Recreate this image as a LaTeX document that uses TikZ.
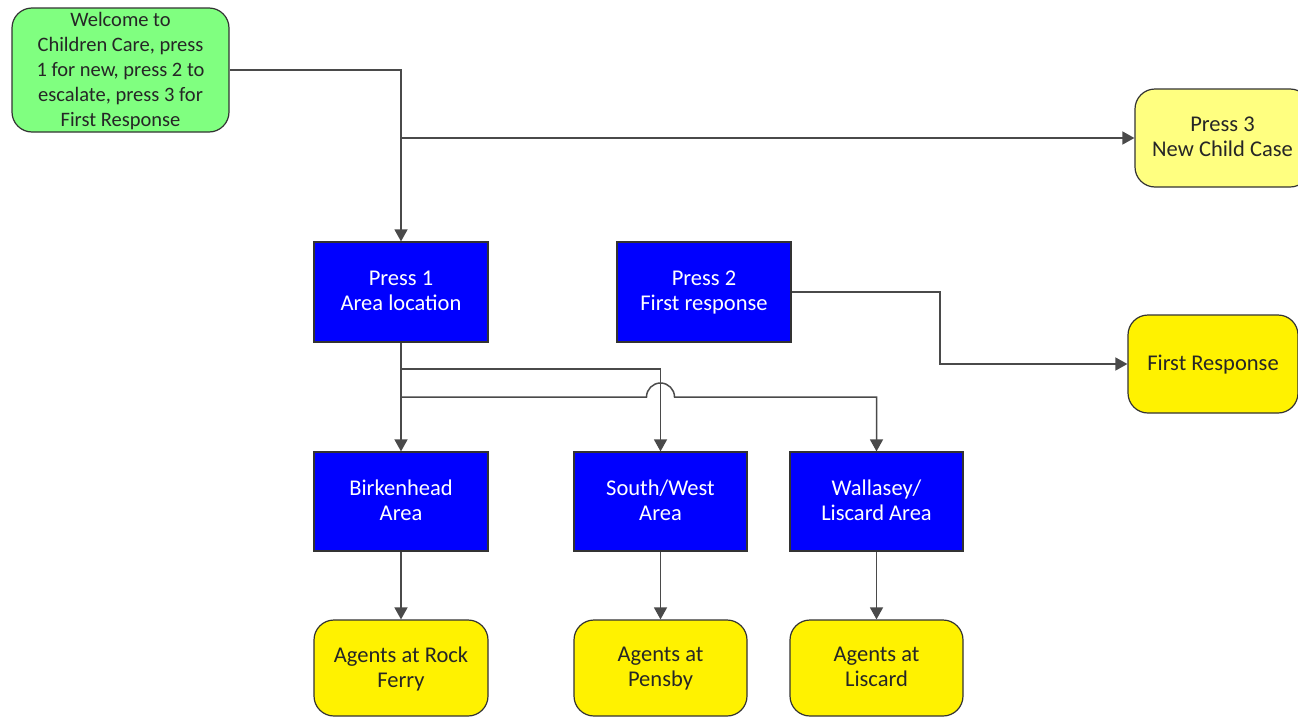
\documentclass[tikz,border=0pt]{standalone}
\usepackage{fontspec}
\setmainfont{Carlito}
\usetikzlibrary{arrows.meta}
\definecolor{greenfill}{HTML}{80FF80}
\definecolor{paleyellow}{HTML}{FFFF80}
\definecolor{linegray}{HTML}{4A4A4A}
\begin{document}
\begin{tikzpicture}[x=1pt,y=-1pt,
 box/.style={draw=black!80, line width=1.2pt, minimum width=174pt, minimum height=100pt, inner xsep=1pt, inner ysep=0pt, text depth=2pt, align=center, font=\fontsize{22.5}{25}\selectfont},
 bluebox/.style={box, fill=blue, text=white},
 ybox/.style={box, rounded corners=20pt, fill=yellow, text=black!85},
 conn/.style={draw=linegray, line width=1.5pt},
 arr/.style={conn, -{Triangle[width=13pt,length=12pt]}}
]
\useasboundingbox (0,0) rectangle (1298,718);

\node[box, rounded corners=20pt, fill=greenfill, text=black!85, minimum width=217pt, minimum height=124pt, font=\fontsize{20.5}{25}\selectfont] (wel) at (120.5,70) {Welcome to\\Children Care, press\\1 for new, press 2 to\\escalate, press 3 for\\First Response};
\node[ybox, fill=paleyellow, minimum width=175pt, minimum height=98pt] (p3) at (1222.5,138) {Press 3\\New Child Case};
\node[bluebox] (p1) at (401,292) {Press 1\\Area location};
\node[bluebox] (p2) at (704,292) {Press 2\\First response};
\node[ybox, minimum width=170pt, minimum height=98pt] (fr) at (1213,364) {First Response};
\node[bluebox, minimum height=99pt] (bk) at (401,501.5) {Birkenhead\\Area};
\node[bluebox, minimum height=99pt, minimum width=173pt] (sw) at (660.5,501.5) {South/West\\Area};
\node[bluebox, minimum height=99pt, minimum width=173pt] (wl) at (876.5,501.5) {Wallasey/\\Liscard Area};
\node[ybox, minimum height=96pt] (ar) at (401,668) {Agents at Rock\\Ferry};
\node[ybox, minimum height=96pt, minimum width=173pt] (ap) at (660.5,668) {Agents at\\Pensby};
\node[ybox, minimum height=96pt, minimum width=173pt] (al) at (876.5,668) {Agents at\\Liscard};

% connectors
\draw[arr] (wel.east) -| (p1.north);
\coordinate (j3) at (401,138);
\draw[arr] (j3) -- (p3.west);
\coordinate (k2) at (940,330);
\draw[arr] (p2.east) -| (k2) |- (fr.west);
\draw[arr] (p1.south) -- (bk.north);
\coordinate (b1) at (401,369);
\draw[arr] (b1) -| (sw.north);
\coordinate (b2) at (401,397);
\coordinate (h1) at (646.5,397);
\draw[arr] (b2) -- (h1) arc[start angle=180, end angle=0, radius=14pt] -| (wl.north);
\draw[arr] (bk.south) -- (ar.north);
\draw[arr] (sw.south) -- (ap.north);
\draw[arr] (wl.south) -- (al.north);
\end{tikzpicture}
\end{document}
